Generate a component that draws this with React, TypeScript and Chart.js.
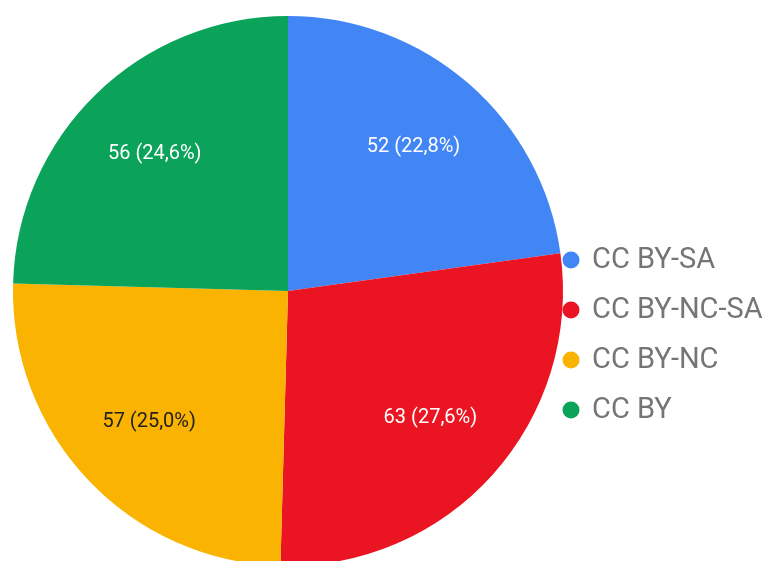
import React, { useEffect, useRef } from "react";
import { Chart, registerables } from "chart.js";

Chart.register(...registerables);

const labels = ["CC BY-SA", "CC BY-NC-SA", "CC BY-NC", "CC BY"];
const values = [52, 63, 57, 56];
const colors = ["#4285F4", "#EB1422", "#F9B300", "#0BA35A"];
const labelColors = ["#FFFFFF", "#FFFFFF", "#222222", "#FFFFFF"];

const sliceLabels = {
  id: "sliceLabels",
  afterDatasetsDraw(chart: any) {
    const { ctx } = chart;
    const meta = chart.getDatasetMeta(0);
    const data = chart.data.datasets[0].data as number[];
    const total = data.reduce((a, b) => a + b, 0);
    ctx.save();
    ctx.font = "20px Roboto";
    ctx.textAlign = "center";
    ctx.textBaseline = "middle";
    meta.data.forEach((arc: any, i: number) => {
      const { x, y, startAngle, endAngle, outerRadius } = arc.getProps(
        ["x", "y", "startAngle", "endAngle", "outerRadius"],
        true
      );
      const mid = (startAngle + endAngle) / 2;
      const r = outerRadius * 0.695;
      const pct = ((data[i] / total) * 100).toFixed(1).replace(".", ",");
      ctx.fillStyle = labelColors[i];
      ctx.fillText(`${data[i]} (${pct}%)`, x + Math.cos(mid) * r, y + Math.sin(mid) * r);
    });
    ctx.restore();
  },
};

const sideLegend = {
  id: "sideLegend",
  afterDraw(chart: any) {
    const { ctx } = chart;
    const lbls = chart.data.labels as string[];
    const bg = chart.data.datasets[0].backgroundColor as string[];
    ctx.save();
    ctx.font = "29px Roboto";
    ctx.textBaseline = "middle";
    ctx.textAlign = "left";
    lbls.forEach((l, i) => {
      const cy = 260 + i * 50;
      ctx.beginPath();
      ctx.arc(571, cy, 8.5, 0, Math.PI * 2);
      ctx.fillStyle = bg[i];
      ctx.fill();
      ctx.fillStyle = "#757575";
      ctx.fillText(l, 592, cy + 1);
    });
    ctx.restore();
  },
};

export default function App() {
  const ref = useRef<HTMLCanvasElement>(null);
  useEffect(() => {
    if (!ref.current) return;
    const chart = new Chart(ref.current, {
      type: "pie",
      data: {
        labels,
        datasets: [
          {
            data: values,
            backgroundColor: colors,
            borderWidth: 0,
          },
        ],
      },
      options: {
        responsive: false,
        animation: false,
        devicePixelRatio: 1,
        radius: 275,
        layout: { padding: { left: 0, top: 0, right: 194, bottom: 0 } },
        plugins: {
          legend: { display: false },
          tooltip: { enabled: false },
        },
      } as any,
      plugins: [sliceLabels, sideLegend],
    });
    return () => chart.destroy();
  }, []);
  return (
    <div
      style={{
        position: "fixed",
        left: 0,
        top: 0,
        width: 770,
        height: 561,
        overflow: "hidden",
        background: "#fff",
      }}
    >
      <canvas ref={ref} width={770} height={582} style={{ display: "block" }} />
    </div>
  );
}
